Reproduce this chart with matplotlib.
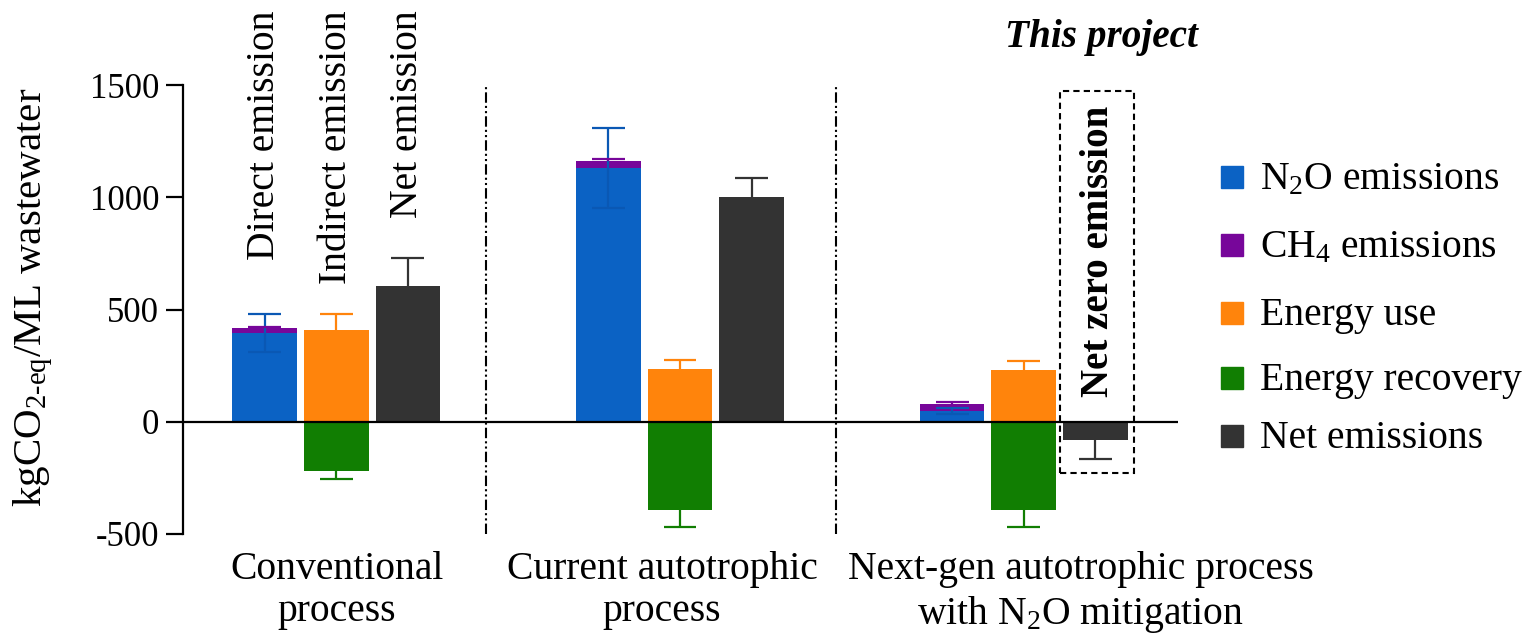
import matplotlib
matplotlib.use("Agg")
import matplotlib.pyplot as plt
import matplotlib.transforms as mtransforms
from matplotlib.patches import Rectangle
import numpy as np

plt.rcParams['font.family'] = ['Liberation Serif', 'DejaVu Serif']
plt.rcParams['mathtext.fontset'] = 'custom'
plt.rcParams['mathtext.rm'] = 'Liberation Serif'
plt.rcParams['mathtext.it'] = 'Liberation Serif:italic'
plt.rcParams['mathtext.bf'] = 'Liberation Serif:bold'
plt.rcParams['axes.unicode_minus'] = False

# values (kgCO2-eq/ML wastewater)
processes = ["Conventional\nprocess", "Current autotrophic\nprocess",
             "Next-gen autotrophic process\nwith N$_2$O mitigation"]
n2o = [394, 1130, 49]
n2o_err = [84, 180, 13]
ch4 = [25, 32, 31]
ch4_err = [4, 7, 8]
energy_use = [407, 233, 230]
energy_use_err = [71, 40, 41]
energy_rec = [-220, -392, -392]
energy_rec_err = [37, 76, 76]
net = [606, 1001, -80]
net_err = [123, 86, 84]

bar_labels = ["Direct emission", "Indirect emission", "Net emission"]
legend_labels = ["N$_2$O emissions", "CH$_4$ emissions", "Energy use",
                 "Energy recovery", "Net emissions"]
colors = ['#0B62C4', '#77069A', '#FF840C', '#117E02', '#333333']

fig = plt.figure(figsize=(15.34, 6.43), dpi=100)
W, H = 1534, 643
ax = fig.add_axes([183 / W, (H - 534) / H, (1178 - 183) / W, (534 - 85) / H])

base = np.array([0, 4.8, 9.6])
bw = 0.9
lw = 1.6
cw = 0.23  # half width of the caps


def err_bars(x, y, up, down, color):
    # error bar drawn away from the bar end (up and/or down)
    x = np.asarray(x, float)
    y = np.asarray(y, float)
    hi = y + np.asarray(up, float)
    lo = y - np.asarray(down, float)
    ax.vlines(x, lo, hi, color=color, lw=lw, zorder=3)
    for ends, amt in ((hi, up), (lo, down)):
        m = np.asarray(amt) > 0
        ax.hlines(ends[m], x[m] - cw, x[m] + cw, color=color, lw=lw, zorder=3)


zeros = [0, 0, 0]

# direct emission (stacked N2O + CH4)
ax.bar(base, n2o, bw, color=colors[0], zorder=2)
ax.bar(base, ch4, bw, bottom=n2o, color=colors[1], zorder=2)
err_bars(base, n2o, n2o_err, n2o_err, '#0A58B4')
top_ch4 = np.array(n2o) + np.array(ch4)
err_bars(base, top_ch4, ch4_err, zeros, colors[1])

# indirect emission (energy use / recovery)
ax.bar(base + 1, energy_use, bw, color=colors[2], zorder=2)
err_bars(base + 1, energy_use, energy_use_err, zeros, colors[2])
ax.bar(base + 1, energy_rec, bw, color=colors[3], zorder=2)
err_bars(base + 1, energy_rec, zeros, energy_rec_err, colors[3])

# net emission
net_pos = np.array(net) >= 0
ax.bar(base + 2, net, bw, color=colors[4], zorder=2)
err_bars(base + 2, net, np.where(net_pos, net_err, 0), np.where(net_pos, 0, net_err), colors[4])

ax.axhline(0, color='black', lw=1.6, zorder=4)

# group dividers
for xd in [3.09, 7.98]:
    ax.axvline(xd, color='black', lw=1.5, linestyle=(0, (5, 1.5, 1, 1.5, 1, 1.5)), zorder=1)

ax.set_xlim(-1.141, 12.755)
ax.set_ylim(-500, 1500)
ax.set_yticks([-500, 0, 500, 1000, 1500])
ax.tick_params(axis='y', labelsize=25, length=12, width=1.6, pad=5)
for s in ['top', 'right', 'bottom']:
    ax.spines[s].set_visible(False)
ax.spines['left'].set_linewidth(1.6)

ax.set_xticks([1.01, 5.55, 11.40])
ax.set_xticklabels(processes, fontsize=28.5, linespacing=1.2)
ax.tick_params(axis='x', length=0, pad=12)

fig.text(33.5 / W, 1 - 297.5 / H, "kgCO$_{\\text{2-eq}}$/ML wastewater",
         rotation=90, ha='center', va='center', fontsize=29.5)

# rotated bar annotations above the first group
trans = mtransforms.blended_transform_factory(ax.transData, fig.transFigure)
for i, lab in enumerate(bar_labels):
    ax.text(base[0] + i, 1 - 10 / H, lab, rotation=90, ha='center', va='top',
            fontsize=28.5, transform=trans)

ax.text(11.69, 1 - 37 / H, "This project", ha='center', va='center',
        fontsize=28.3, fontweight='bold', fontstyle='italic', transform=trans)

# net zero box
ax.add_patch(Rectangle((11.11, -230), 1.035, 1703, fill=False, ec='black',
                       lw=1.5, linestyle=(0, (3, 2)), clip_on=False, zorder=5))
ax.text(11.64, 757, "Net zero emission", rotation=90, ha='center', va='center',
        fontsize=28, fontweight='bold', zorder=6)

# legend drawn as squares + labels at the right
rows = [177, 245, 313, 378, 436]
for c, lab, yc in zip(colors, legend_labels, rows):
    sq = 22
    fig.patches.append(Rectangle((1221 / W, (H - yc - sq / 2) / H), sq / W, sq / H,
                                 color=c, transform=fig.transFigure, figure=fig))
    fig.text(1260 / W, (H - yc - 12) / H, lab, ha='left', va='baseline', fontsize=28.5)

fig.savefig("out.png", dpi=100)
